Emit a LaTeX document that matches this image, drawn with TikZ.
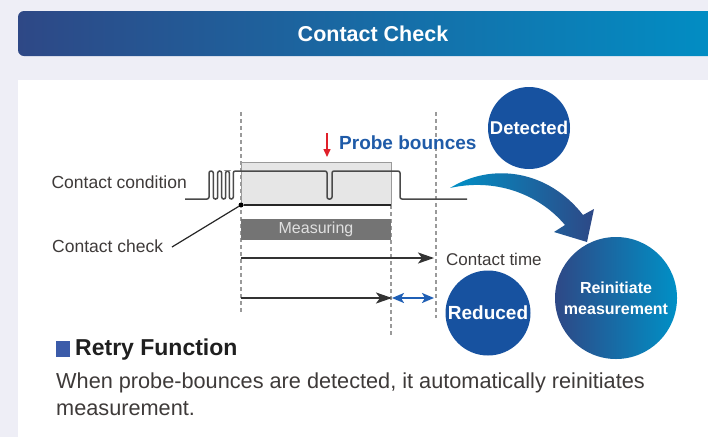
\documentclass[tikz,border=0pt]{standalone}
\usepackage{fontspec}
\setmainfont{Liberation Sans}
\usetikzlibrary{arrows.meta}
\definecolor{bg}{HTML}{EEEEF6}
\definecolor{navyL}{HTML}{2E4886}
\definecolor{cyanR}{HTML}{0090C6}
\definecolor{txt}{HTML}{3E3A39}
\definecolor{circ}{HTML}{1752A0}
\definecolor{probe}{HTML}{1F5BA8}
\definecolor{sqblue}{HTML}{3B5BA9}
\definecolor{dbl}{HTML}{1F5FB5}
\definecolor{dash}{HTML}{9A9A9A}
\definecolor{boxfill}{HTML}{E6E6E6}
\definecolor{measfill}{HTML}{747474}
\definecolor{redarr}{HTML}{E0202A}
\definecolor{wavecol}{HTML}{4A4A4A}
\begin{document}
\begin{tikzpicture}[x=1pt,y=-1pt,
  lbl/.style={text=txt,inner sep=0pt,font=\fontsize{17.5}{20}\selectfont},
  circnode/.style={circle,fill=circ,text=white,inner sep=0pt,align=center,font=\bfseries\fontsize{19}{22}\selectfont},
  guide/.style={draw=dash,line width=1.2pt,dash pattern=on 4pt off 3pt},
  timearrow/.style={draw=black!80,line width=2pt,-{Stealth[length=16pt,width=11pt,inset=4pt]}},
  wave/.style={draw=wavecol,line width=1.5pt,rounded corners=2pt}
]
\clip (0,0) rectangle (708,437);
\fill[bg] (0,0) rectangle (708,437);
% header
\shade[left color=navyL,right color=cyanR,rounded corners=6pt] (18,11) rectangle (740,56);
\node[text=white,font=\bfseries\fontsize{21.5}{24}\selectfont,inner sep=0pt] (title) at (373,34) {Contact Check};
% panel
\fill[white] (18,80) rectangle (740,470);
% guide coordinates
\coordinate (g1t) at (241,112); \coordinate (g1b) at (241,312);
\coordinate (g2t) at (391,205); \coordinate (g2b) at (391,336);
\coordinate (g3t) at (436,112); \coordinate (g3b) at (436,318);
% measuring window box
\node[draw=dash,fill=boxfill,line width=1pt,minimum width=150pt,minimum height=43pt,inner sep=0pt] (win) at (316,183.5) {};
\draw[guide] (g1t) -- (g1b);
\draw[guide] (g2t) -- (g2b);
\draw[guide] (g3t) -- (g3b);
% waveform
\draw[wave] (185,199) -| (209,171) -| (213.3,199) -| (217.7,171) -| (221.7,199) -| (225.7,171) -| (229.3,199) -| (233.3,171)
  -| (327,199) -| (332,171) -| (400,199) -- (467,199);
% contact check line
\node[circle,fill=black,minimum size=5pt,inner sep=0pt] (dot) at (241,205) {};
\coordinate (bend) at (391,205);
\draw[black!85,line width=1.6pt] (dot) -- (bend);
% measuring bar
\node[fill=measfill,minimum width=150pt,minimum height=21pt,inner sep=0pt,text=black!12,font=\fontsize{16}{18}\selectfont] (meas) at (316,229) {Measuring};
% labels
\node[lbl,anchor=east] (ccond) at (187,182) {Contact condition};
\node[lbl,anchor=west] (ccheck) at (52,246) {Contact check};
\coordinate (ccend) at (172,247);
\draw[black!85,line width=1.2pt] (dot) -- (ccend);
% probe bounces
\coordinate (rt) at (327,133); \coordinate (rb) at (327,157);
\draw[redarr,line width=1.5pt,-{Triangle[length=8pt,width=7pt]}] (rt) -- (rb);
\node[text=probe,font=\bfseries\fontsize{19}{22}\selectfont,inner sep=0pt,anchor=west] (pb) at (339,143) {Probe bounces};
% time arrows
\coordinate (a1s) at (241,258); \coordinate (a1e) at (434,258);
\coordinate (a2s) at (241,298); \coordinate (a2e) at (392,298);
\coordinate (a3e) at (434,298);
\draw[timearrow] (a1s) -- (a1e);
\draw[timearrow] (a2s) -- (a2e);
\draw[dbl,line width=1.8pt,{Stealth[length=12pt,width=10pt,inset=3pt]}-{Stealth[length=12pt,width=10pt,inset=3pt]}] (a2e) -- (a3e);
\node[lbl,anchor=west,font=\fontsize{17}{20}\selectfont] (ctime) at (446,259) {Contact time};
% circles
\node[circnode,minimum size=82pt,font=\bfseries\fontsize{18.5}{22}\selectfont] (det) at (529,128) {Detected};
\node[circnode,minimum size=85pt] (red) at (488,313) {Reduced};
\node[circle,left color=navyL,right color=cyanR,minimum size=122pt,inner sep=0pt,text=white,align=center,font=\bfseries\fontsize{16}{21}\selectfont] (reinit) at (616,298) {Reinitiate\\measurement};
% curved arrow
\shade[left color=cyanR,right color=navyL]
  (450,188) .. controls (492,162) and (548,170) .. (583,215)
  -- (594,209) -- (587,242) -- (554,232) -- (565,225)
  .. controls (538,193) and (494,178) .. (450,188) -- cycle;
% retry function
\node[fill=sqblue,minimum width=14pt,minimum height=16pt,inner sep=0pt] (sq) at (63,349) {};
\node[text=black!88,font=\bfseries\fontsize{23}{26}\selectfont,inner sep=0pt,anchor=west] (rf) at (75,350) {Retry Function};
\node[text=txt,font=\fontsize{21.7}{27}\selectfont,inner sep=0pt,anchor=north west,align=left] (para) at (56,373) {When probe-bounces are detected, it automatically reinitiates\\measurement.};
\end{tikzpicture}
\end{document}
